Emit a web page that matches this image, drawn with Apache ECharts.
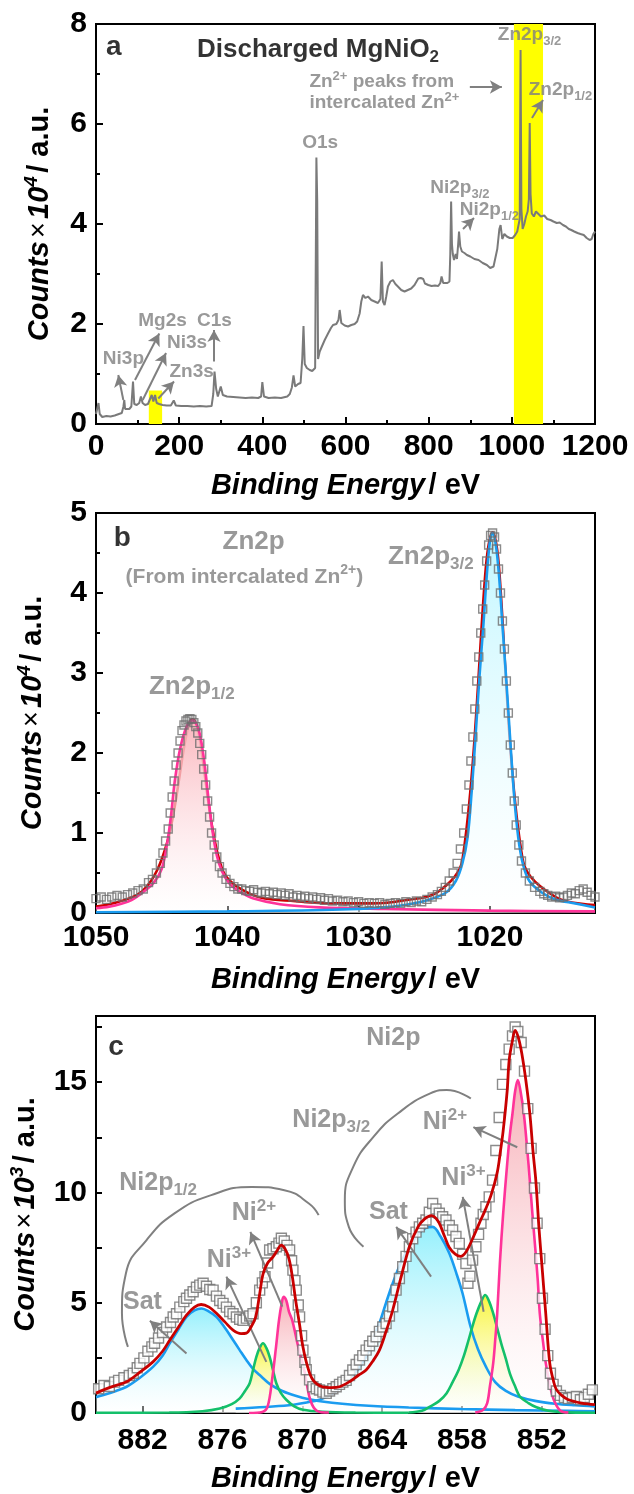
<!DOCTYPE html>
<html>
<head>
<meta charset="utf-8">
<script src="https://cdn.jsdelivr.net/npm/echarts@6/dist/echarts.min.js"></script>
<style>
html, body { margin: 0; padding: 0; background: #fff; }
#chart { width: 634px; height: 1494px; }
</style>
</head>
<body>
<div id="chart"></div>
<script>
// ---- values ----
// (a) survey spectrum, [binding energy eV, counts x1e4]
var survey = [
  [0,0.2],[3,0.24],[6,0.42],[9,0.2],[15,0.14],[25,0.16],[35,0.15],[45,0.17],[55,0.2],[62,0.22],[66,0.35],[68,0.48],[70,0.3],[74,0.28],
  [80,0.3],[85,0.35],[89,0.85],[92,0.4],[98,0.38],[104,0.42],[108,0.55],[112,0.42],[118,0.38],[125,0.4],[130,0.5],[134,0.58],[138,0.45],
  [142,0.58],[146,0.42],[152,0.4],[160,0.38],[170,0.37],[180,0.37],[187,0.47],[192,0.37],[205,0.36],[220,0.36],[235,0.35],[250,0.36],
  [265,0.35],[278,0.36],[282,0.6],[285,1.05],[289,0.7],[293,0.55],[300,0.75],[305,0.58],[315,0.55],[330,0.54],[345,0.53],[360,0.52],
  [375,0.53],[390,0.52],[397,0.55],[400,0.84],[404,0.55],[415,0.52],[430,0.53],[445,0.52],[460,0.55],[466,0.6],[471,0.73],[475,0.97],
  [479,0.75],[486,0.8],[492,0.82],[496,1.3],[499,1.96],[502,1.2],[507,1.12],[514,1.08],[520,1.06],[527,1.12],[530,5.33],[532,4.45],
  [534,1.3],[538,1.45],[542,1.48],[550,1.68],[558,1.81],[565,1.92],[570,1.98],[578,2.0],[583,2.08],[586,2.28],[590,2.02],[598,1.97],
  [606,1.95],[614,1.98],[622,2.0],[628,2.05],[634,2.21],[638,2.45],[642,2.58],[648,2.52],[654,2.55],[662,2.48],[670,2.45],[678,2.42],
  [684,2.5],[687,3.25],[690,2.45],[694,2.38],[698,2.55],[702,2.75],[708,2.85],[714,2.88],[720,2.8],[726,2.75],[734,2.68],[742,2.65],
  [750,2.68],[758,2.71],[766,2.78],[775,2.91],[781,2.92],[787,2.9],[791,2.81],[799,2.78],[807,2.76],[815,2.77],[823,2.76],[828,2.82],
  [831,2.95],[835,2.82],[839,2.78],[845,2.82],[850,2.85],[852,3.4],[854,4.45],[856,3.6],[858,3.4],[861,3.28],[865,3.4],[868,3.3],
  [871,3.6],[873,3.85],[876,3.55],[880,3.45],[886,3.42],[892,3.38],[900,3.35],[910,3.3],[920,3.28],[930,3.22],[940,3.18],[948,3.12],
  [952,3.08],[956,3.15],[960,3.18],[965,3.5],[970,3.9],[973,3.98],[977,3.7],[982,3.8],[988,3.75],[995,3.72],[1002,3.72],[1008,3.78],
  [1013,3.85],[1017,3.88],[1019,4.1],[1021,7.48],[1023,4.3],[1026,3.9],[1030,4.0],[1034,4.15],[1038,4.25],[1041,4.5],[1043,6.02],
  [1045,4.6],[1048,4.21],[1053,4.15],[1058,4.25],[1064,4.2],[1070,4.15],[1078,4.17],[1085,4.1],[1093,4.08],[1100,4.05],[1108,4.02],
  [1115,4.03],[1123,3.98],[1130,3.95],[1137,3.9],[1143,3.88],[1150,3.85],[1158,3.82],[1165,3.8],[1173,3.78],[1180,3.72],[1187,3.68],
  [1192,3.7],[1196,3.8],[1200,3.85]
];
var highlightBands = [[1005, 1075], [127, 159, 0.67]];

// (b) Zn2p, counts x1e4
var znRaw = [
  [1050,0.18],[1049.6,0.2],[1049.2,0.17],[1048.8,0.2],[1048.4,0.22],[1048,0.2],[1047.6,0.23],[1047.2,0.25],[1046.8,0.28],[1046.4,0.3],
  [1046,0.38],[1045.7,0.42],[1045.4,0.5],[1045.1,0.62],[1044.9,0.75],[1044.7,0.9],[1044.5,1.05],[1044.35,1.25],[1044.2,1.45],
  [1044.05,1.65],[1043.9,1.85],[1043.75,2.0],[1043.6,2.15],[1043.45,2.28],[1043.3,2.35],[1043.15,2.4],[1043,2.42],[1042.85,2.43],
  [1042.7,2.42],[1042.55,2.38],[1042.4,2.33],[1042.25,2.25],[1042.1,2.12],[1041.95,1.98],[1041.8,1.8],[1041.65,1.6],[1041.5,1.4],
  [1041.35,1.2],[1041.2,1.0],[1041,0.85],[1040.8,0.7],[1040.6,0.58],[1040.4,0.5],[1040.1,0.42],[1039.8,0.37],[1039.5,0.33],
  [1039.2,0.3],[1038.9,0.3],[1038.6,0.28],[1038.3,0.27],[1038,0.29],[1037.7,0.26],[1037.4,0.25],[1037.1,0.27],[1036.8,0.24],
  [1036.5,0.26],[1036.2,0.23],[1035.9,0.25],[1035.6,0.22],[1035.3,0.24],[1035,0.2],[1034.7,0.22],[1034.4,0.19],[1034.1,0.21],
  [1033.8,0.18],[1033.5,0.2],[1033.2,0.17],[1032.9,0.19],[1032.6,0.16],[1032.3,0.18],[1032,0.15],[1031.6,0.16],[1031.2,0.14],
  [1030.8,0.15],[1030.4,0.13],[1030,0.14],[1029.6,0.12],[1029.2,0.13],[1028.8,0.12],[1028.4,0.13],[1028,0.11],[1027.6,0.12],
  [1027.2,0.13],[1026.8,0.12],[1026.4,0.14],[1026,0.13],[1025.6,0.15],[1025.2,0.14],[1024.8,0.17],[1024.4,0.2],[1024,0.23],
  [1023.7,0.27],[1023.4,0.32],[1023.1,0.4],[1022.8,0.5],[1022.5,0.62],[1022.25,0.8],[1022,1.0],[1021.8,1.3],[1021.6,1.6],
  [1021.45,1.9],[1021.3,2.2],[1021.15,2.55],[1021,2.9],[1020.85,3.2],[1020.7,3.5],[1020.55,3.8],[1020.4,4.1],[1020.25,4.4],
  [1020.1,4.6],[1019.95,4.72],[1019.8,4.75],[1019.65,4.7],[1019.5,4.55],[1019.35,4.3],[1019.2,4.0],[1019.05,3.65],[1018.9,3.3],
  [1018.75,2.9],[1018.6,2.5],[1018.45,2.1],[1018.3,1.75],[1018.15,1.4],[1018,1.1],[1017.8,0.85],[1017.6,0.65],[1017.3,0.5],
  [1017,0.4],[1016.6,0.32],[1016.2,0.27],[1015.9,0.24],[1015.6,0.22],[1015.3,0.2],[1015,0.21],[1014.7,0.19],[1014.4,0.2],
  [1014.1,0.22],[1013.8,0.25],[1013.5,0.24],[1013.2,0.28],[1012.9,0.3],[1012.6,0.26],[1012.3,0.22],[1012,0.2]
];
var zn12Fit = [
  [1050,0.06],[1049,0.08],[1048,0.12],[1047.3,0.16],[1046.5,0.25],[1045.6,0.38],[1045,0.55],[1044.6,0.85],[1044.3,1.2],[1044,1.65],
  [1043.6,2.05],[1043.1,2.33],[1042.65,2.41],[1042.2,2.3],[1041.8,1.95],[1041.45,1.45],[1041.15,1.05],[1040.8,0.72],[1040.4,0.52],
  [1039.8,0.36],[1039,0.26],[1038,0.18],[1036,0.11],[1033,0.07],[1028,0.05],[1020,0.03],[1012,0.02]
];
var zn32Fit = [
  [1050,0.01],[1040,0.02],[1032,0.04],[1028,0.07],[1026.5,0.1],[1025,0.15],[1023.4,0.25],[1022.6,0.4],[1022.1,0.62],[1021.7,0.95],
  [1021.4,1.5],[1021.1,2.2],[1020.8,2.95],[1020.5,3.6],[1020.25,4.2],[1020,4.65],[1019.8,4.75],[1019.55,4.6],[1019.3,4.2],
  [1019.05,3.6],[1018.75,2.9],[1018.45,2.15],[1018.15,1.45],[1017.85,0.95],[1017.5,0.62],[1017,0.4],[1016,0.25],[1015,0.17],
  [1013.5,0.12],[1012,0.07]
];
var znSum = [
  [1050,0.08],[1046.5,0.27],[1044.6,0.87],[1042.65,2.42],[1040.4,0.55],[1038,0.22],[1035,0.15],[1032,0.12],[1029,0.12],
  [1026.5,0.16],[1024,0.26],[1022.1,0.66],[1019.8,4.76],[1017.5,0.66],[1015,0.2],[1012,0.1]
];

// (c) Ni2p, counts x1e3
var niRaw = [
  [885.3,1.1],[884.9,1.25],[884.5,1.2],[884.1,1.4],[883.8,1.48],[883.4,1.6],[883,1.7],[882.7,1.8],[882.4,2.05],[882.2,2.25],[881.9,2.5],
  [881.6,2.8],[881.3,3.0],[881.1,3.16],[880.8,3.4],[880.5,3.65],[880.2,3.9],[879.9,4.1],[879.7,4.35],[879.45,4.5],[879.2,4.8],
  [878.9,5.05],[878.7,5.2],[878.45,5.35],[878.2,5.5],[877.95,5.7],[877.7,5.8],[877.45,5.88],[877.2,5.75],[876.95,5.6],[876.7,5.57],
  [876.45,5.3],[876.2,5.1],[875.95,4.97],[875.7,4.8],[875.45,4.6],[875.2,4.5],[874.95,4.35],[874.7,4.25],[874.45,4.2],[874.2,4.3],
  [873.95,4.4],[873.7,4.5],[873.45,5.0],[873.2,5.57],[873,5.9],[872.8,6.18],[872.6,6.8],[872.45,7.39],[872.2,7.45],[871.95,7.54],
  [871.75,7.7],[871.57,7.92],[871.35,7.8],[871.15,7.6],[870.95,7.39],[870.8,6.9],[870.7,6.48],[870.55,6.0],[870.45,5.57],[870.3,4.9],
  [870.2,4.36],[870.05,3.5],[869.95,2.85],[869.8,2.3],[869.7,1.96],[869.45,1.5],[869.2,1.19],[868.95,1.1],[868.7,1.04],[868.45,0.95],
  [868.2,0.89],[867.95,1.0],[867.7,1.1],[867.45,1.19],[867.2,1.3],[866.95,1.4],[866.7,1.48],[866.45,1.7],[866.2,1.95],[865.95,2.2],
  [865.7,2.4],[865.45,2.6],[865.2,2.85],[864.95,3.05],[864.7,3.25],[864.45,3.46],[864.2,3.7],[863.95,3.9],[863.7,4.06],[863.45,4.4],
  [863.2,4.82],[862.95,5.57],[862.7,6.1],[862.45,6.63],[862.2,7.1],[861.95,7.54],[861.7,7.9],[861.45,8.2],[861.2,8.44],[860.95,8.6],
  [860.7,8.75],[860.45,9.1],[860.2,9.5],[859.95,9.25],[859.7,9.06],[859.45,8.9],[859.2,8.75],[858.95,8.5],[858.7,8.3],[858.45,8.0],
  [858.2,7.69],[857.95,7.2],[857.7,6.78],[857.55,5.88],[857.4,6.2],[857.2,6.93],[856.95,7.54],[856.75,8.1],[856.57,8.6],[856.4,9.0],
  [856.2,9.35],[855.95,9.8],[855.7,10.56],[855.45,11.9],[855.2,13.4],[854.95,14.9],[854.7,15.8],[854.45,16.5],[854.2,17.1],[854,17.5],
  [853.8,17.3],[853.55,16.8],[853.3,15.5],[853.05,13.8],[852.8,12.0],[852.55,10.2],[852.35,8.6],[852.15,7.0],[851.95,5.2],[851.75,3.8],
  [851.55,2.6],[851.35,1.8],[851.15,1.3],[850.9,1.0],[850.6,0.8],[850.3,0.7],[850,0.65],[849.7,0.7],[849.4,0.75],[849.1,0.6],
  [848.8,0.7],[848.5,0.85],[848.2,1.05]
];
var niSatA = [
  [885.5,0.72],[885,0.8],[884,1.0],[883.2,1.19],[882.2,1.6],[881.2,2.1],[880.5,2.6],[879.95,3.17],[879.3,3.8],[878.7,4.36],[878.1,4.65],
  [877.57,4.74],[877,4.6],[876.45,4.36],[875.8,3.85],[875.2,3.31],[874.7,2.85],[874.2,2.4],[873.7,2.0],[873.2,1.72],[872.4,1.3],
  [871.5,1.0],[870.5,0.78],[869.5,0.62],[868.5,0.52],[867,0.42],[865,0.33],[862,0.25],[858,0.18],[854,0.13],[850,0.1],[848,0.08]
];
var niSatB = [
  [875,0.2],[871,0.35],[869.5,0.5],[868.7,0.6],[867.7,0.89],[866.45,1.5],[865.8,2.0],[865.2,2.55],[864.7,3.3],[864.2,4.07],[863.7,5.0],
  [863.2,5.88],[862.6,6.8],[861.95,7.54],[861.3,8.1],[860.7,8.4],[860.2,8.44],[859.6,8.0],[858.95,7.24],[858.4,6.3],[857.95,5.42],
  [857.35,3.91],[856.8,2.9],[856.2,2.1],[855.5,1.4],[854.7,1.0],[853.8,0.75],[852.5,0.55],[851,0.42],[849.5,0.35],[848,0.3]
];
var niIII_12 = [
  [885.5,0.01],[880,0.02],[877.5,0.08],[876.2,0.2],[875.3,0.4],[874.7,0.66],[874.3,1.0],[873.95,1.35],[873.7,1.95],[873.45,2.55],
  [873.2,2.95],[872.95,3.16],[872.7,2.95],[872.45,2.55],[872.2,1.95],[871.95,1.35],[871.6,0.9],[871.2,0.6],[870.6,0.3],[869.95,0.15],
  [868.5,0.06],[866,0.02],[862,0.01]
];
var niII_12 = [
  [874,0.0],[873,0.05],[872.6,0.3],[872.27,1.5],[871.97,3.0],[871.75,4.2],[871.55,4.95],[871.4,5.27],[871.2,5.1],[871,4.6],
  [870.75,4.2],[870.3,3.0],[869.8,1.8],[869.4,0.6],[868.9,0.1],[868,0.02]
];
var niIII_32 = [
  [862,0.02],[861,0.1],[860.4,0.29],[859.7,0.55],[859.15,0.9],[858.7,1.4],[858.25,1.95],[857.85,2.6],[857.5,3.31],[857.2,3.95],
  [856.9,4.52],[856.55,5.05],[856.25,5.35],[855.95,5.05],[855.65,4.52],[855.35,3.85],[855.05,3.16],[854.7,2.45],[854.4,1.8],[854,1.2],
  [853.65,0.75],[853,0.45],[852.4,0.26],[851.5,0.1],[850.5,0.04],[848,0.01]
];
var niII_32 = [
  [857,0.02],[856.4,0.15],[856.1,0.45],[855.9,1.2],[855.65,2.26],[855.5,3.3],[855.35,4.5],[855.15,6.78],[854.9,9.05],[854.6,11.3],
  [854.4,12.6],[854.2,13.58],[854,14.6],[853.8,15.1],[853.6,14.6],[853.35,13.58],[853.1,12.0],[852.9,10.56],[852.7,9.0],[852.5,7.54],
  [852.3,6.0],[852.15,4.52],[851.9,3.2],[851.7,2.26],[851.4,1.3],[851.1,0.6],[850.6,0.1],[850,0.02]
];
var niSum = [
  [885.5,0.9],[884.5,1.15],[883.2,1.42],[882.2,1.85],[881.2,2.33],[880.5,2.8],[879.95,3.31],[879.3,3.9],[878.7,4.44],[878.1,4.8],
  [877.6,4.92],[877,4.8],[876.45,4.52],[875.8,4.12],[875.2,3.76],[874.6,3.6],[874.2,3.62],[873.85,3.9],[873.5,4.36],[873.2,5.4],
  [872.95,6.3],[872.6,6.8],[872.2,7.08],[871.85,7.4],[871.6,7.61],[871.3,7.45],[871,7.0],[870.75,6.2],[870.5,5.12],[870.2,4.0],
  [869.95,3.0],[869.6,2.1],[869.2,1.5],[868.5,1.19],[867.8,1.15],[867.2,1.19],[866.45,1.42],[865.8,1.7],[865.2,1.95],[864.7,2.35],
  [864.2,2.85],[863.7,3.7],[863.2,4.67],[862.6,6.1],[861.95,7.54],[861.3,8.44],[860.8,8.8],[860.3,8.95],[859.8,8.7],[859.3,8.0],
  [858.95,7.5],[858.5,7.2],[858.1,7.1],[857.7,7.3],[857.2,7.9],[856.7,8.6],[856.25,9.2],[855.8,9.9],[855.35,10.9],[855.1,11.9],
  [854.9,12.8],[854.6,14.6],[854.45,16.0],[854.2,16.9],[854,17.35],[853.75,17.0],[853.5,16.3],[853.2,15.1],[852.9,13.6],[852.65,11.8],
  [852.45,10.56],[852.2,8.3],[852,6.78],[851.7,4.5],[851.4,2.26],[851.1,1.4],[850.9,1.06],[850.5,0.8],[850,0.6],[849,0.45],[848,0.38]
];

// tick values
var surveyTicks = [0, 200, 400, 600, 800, 1000, 1200];
var znTicks = [1020, 1030, 1040, 1050];
var niTicks = [852, 858, 864, 870, 876, 882];

// annotation text anchors (data coordinates): [x, y, text]
var surveyNotes = [
  [43, 7.54, '{k|a}'],
  [534, 7.48, '{t|Discharged MgNiO}{ts|2}'],
  [1042.5, 7.78, '{m|Zn2p}{sb|3/2}'],
  [1117, 6.68, '{m|Zn2p}{sb|1/2}'],
  [539, 5.62, '{m|O1s}'],
  [875, 4.72, '{m|Ni2p}{sb|3/2}'],
  [946, 4.28, '{m|Ni2p}{sb|1/2}'],
  [160, 2.06, '{m|Mg2s}'],
  [285, 2.06, '{m|C1s}'],
  [219, 1.62, '{m|Ni3s}'],
  [66, 1.3, '{m|Ni3p}'],
  [230, 1.04, '{m|Zn3s}']
];
var surveyLeftNotes = [
  [512, 6.84, '{m|Zn}{sp|2+}{m| peaks from}'],
  [512, 6.42, '{m|intercalated Zn}{sp|2+}']
];
var surveyArrows = [
  [899, 6.74, 976, 6.74], [1048.5, 6.12, 1075, 6.48], [882.6, 3.9, 909, 4.12],
  [65.7, 0.48, 53.6, 0.98], [93.8, 0.88, 152.2, 1.81], [112.3, 0.48, 168.4, 1.42],
  [149.8, 0.51, 187.6, 0.85], [283.8, 1.25, 283.8, 1.88]
];
var znNotes = [
  [1048, 4.69, '{k|b}'],
  [1038, 4.64, '{m|Zn2p}'],
  [1038.7, 4.2, '{p|(From intercalated Zn}{psp|2+}{p|)}'],
  [1042.7, 2.83, '{m|Zn2p}{sb|1/2}'],
  [1024.5, 4.45, '{m|Zn2p}{sb|3/2}']
];
var niNotes = [
  [884.0, 16.58, '{k|c}'],
  [863.15, 17.0, '{m|Ni2p}'],
  [880.83, 10.42, '{m|Ni2p}{sb|1/2}'],
  [867.82, 13.28, '{m|Ni2p}{sb|3/2}'],
  [859.28, 13.19, '{m|Ni}{sp|2+}'],
  [857.88, 10.65, '{m|Ni}{sp|3+}'],
  [863.52, 9.11, '{m|Sat}'],
  [873.63, 9.06, '{m|Ni}{sp|2+}'],
  [875.51, 6.93, '{m|Ni}{sp|3+}'],
  [882.01, 5.04, '{m|Sat}']
];
var niArrows = [
  [878.7, 2.7, 881.45, 4.18], [872.7, 2.32, 875.7, 6.18], [871.5, 4.82, 873.9, 8.21],
  [860.32, 6.18, 862.94, 8.44], [856.37, 4.59, 857.94, 9.8], [853.84, 12.05, 857.14, 12.96]
];
var niArcLeft = [[883.1,3.0],[883.55,4.52],[883.25,6.34],[881.7,7.84],[879.6,9.05],[876.84,9.88],[873.8,10.25],[871.35,10.1],[869.5,9.5],[868.77,8.97]];
var niArcRight = [[865.4,7.54],[866.5,8.44],[866.8,9.65],[866.17,11.16],[864.65,12.52],[862.82,13.58],[860.38,14.49],[859.15,14.64],[857.33,14.26]];

// ---- chart ----
var FONT = "'Liberation Sans', Arial, sans-serif";
var GRAY = '#808080';
var chart = echarts.init(document.getElementById('chart'), null, { renderer: 'canvas' });

function grad(top, bottom) {
  return new echarts.graphic.LinearGradient(0, 0, 0, 1, [
    { offset: 0, color: top }, { offset: 1, color: bottom || 'rgba(255,255,255,0.4)' }
  ]);
}

function richSet(size, weight, color) {
  var sub = Math.round(size * 0.66);
  return {
    m: { fontFamily: FONT, fontSize: size, fontWeight: weight, color: color, lineHeight: size + 6 },
    sb: { fontFamily: FONT, fontSize: sub, fontWeight: weight, color: color, verticalAlign: 'bottom', lineHeight: sub },
    sp: { fontFamily: FONT, fontSize: sub, fontWeight: weight, color: color, verticalAlign: 'top', lineHeight: sub },
    k: { fontFamily: FONT, fontSize: 28, fontWeight: 'bold', color: '#000', lineHeight: 32 },
    t: { fontFamily: FONT, fontSize: 26, fontWeight: 'bold', color: '#000', lineHeight: 32 },
    ts: { fontFamily: FONT, fontSize: 17, fontWeight: 'bold', color: '#000', verticalAlign: 'bottom', lineHeight: 17 },
    p: { fontFamily: FONT, fontSize: 21, fontWeight: 'bold', color: color, lineHeight: 27 },
    psp: { fontFamily: FONT, fontSize: 14, fontWeight: 'bold', color: color, verticalAlign: 'top', lineHeight: 14 }
  };
}

function noteSeries(idx, notes, rich, arrows, position) {
  return {
    type: 'scatter', xAxisIndex: idx, yAxisIndex: idx, z: 6, silent: true,
    symbolSize: 1, itemStyle: { color: 'rgba(0,0,0,0)' },
    data: notes.map(function (n) {
      return {
        value: [n[0], n[1]],
        label: { show: true, position: position || 'inside', distance: 0, formatter: function () { return n[2]; }, rich: rich }
      };
    }),
    markLine: arrows ? {
      silent: true, animation: false, symbol: ['none', 'arrow'], symbolSize: [10, 12],
      label: { show: false }, lineStyle: { color: GRAY, width: 2, type: 'solid' },
      data: arrows.map(function (a) { return [{ coord: [a[0], a[1]] }, { coord: [a[2], a[3]] }]; })
    } : undefined
  };
}

function fitSeries(idx, data, color, fill, z) {
  return {
    type: 'line', xAxisIndex: idx, yAxisIndex: idx, data: data, smooth: 0.35, symbol: 'none', z: z || 2, silent: true,
    lineStyle: { color: color, width: 2.6 },
    areaStyle: fill ? { color: grad(fill), opacity: 1 } : undefined
  };
}

function rawSeries(idx, data, size, fill) {
  return {
    type: 'scatter', xAxisIndex: idx, yAxisIndex: idx, data: data, symbol: 'rect', symbolSize: size, z: 4, silent: true,
    itemStyle: { color: fill, borderColor: '#6e6e6e', borderWidth: 1.4 }
  };
}

function plain(v) { return String(v); }
var tickLabel = { color: '#000', fontFamily: FONT, fontSize: 30, fontWeight: 'bold' };
var axisLine = { show: true, onZero: false, lineStyle: { color: '#000', width: 2 } };

function xName(gap) {
  return {
    name: '{i|Binding Energy} {n|/ eV}', nameLocation: 'middle', nameGap: gap,
    nameTextStyle: { rich: {
      i: { fontFamily: FONT, fontSize: 29, fontWeight: 'bold', fontStyle: 'italic', color: '#000' },
      n: { fontFamily: FONT, fontSize: 29, fontWeight: 'bold', color: '#000' }
    } }
  };
}
function yName(exp, gap) {
  return {
    name: '{i|Counts} {x|\u00d7} {i|10}{s|' + exp + '} {n|/ a.u.}', nameLocation: 'middle', nameGap: gap, nameRotate: 90,
    nameTextStyle: { rich: {
      i: { fontFamily: FONT, fontSize: 29, fontWeight: 'bold', fontStyle: 'italic', color: '#000', lineHeight: 36 },
      x: { fontFamily: FONT, fontSize: 27, color: '#000', lineHeight: 36 },
      s: { fontFamily: FONT, fontSize: 19, fontWeight: 'bold', fontStyle: 'italic', color: '#000', verticalAlign: 'top', lineHeight: 19 },
      n: { fontFamily: FONT, fontSize: 29, fontWeight: 'bold', color: '#000', lineHeight: 36 }
    } }
  };
}

var grids = [
  { left: 96, top: 24, width: 499, height: 400 },
  { left: 96, top: 513, width: 499, height: 400 },
  { left: 96, top: 1016, width: 499, height: 397 }
].map(function (g) { g.show = true; g.borderColor = '#000'; g.borderWidth = 2; g.backgroundColor = 'transparent'; return g; });

var xAxes = [
  Object.assign({
    type: 'value', gridIndex: 0, min: 0, max: 1200, interval: 200, axisLine: axisLine, splitLine: { show: false },
    axisTick: { inside: true, length: 7, lineStyle: { width: 2, color: '#000' } },
    minorTick: { show: true, splitNumber: 2, length: 4, lineStyle: { width: 2, color: '#000' } },
    axisLabel: Object.assign({ margin: 8, customValues: surveyTicks, formatter: plain }, tickLabel)
  }, xName(47)),
  Object.assign({
    type: 'value', gridIndex: 1, min: 1012, max: 1050, inverse: true, axisLine: axisLine, splitLine: { show: false },
    axisTick: { inside: true, length: 7, customValues: znTicks, lineStyle: { width: 2, color: '#000' } },
    axisLabel: Object.assign({ margin: 10, customValues: znTicks, formatter: plain }, tickLabel)
  }, xName(52)),
  Object.assign({
    type: 'value', gridIndex: 2, min: 848, max: 885.5, inverse: true, axisLine: axisLine, splitLine: { show: false },
    axisTick: { inside: true, length: 7, customValues: niTicks, lineStyle: { width: 2, color: '#000' } },
    axisLabel: Object.assign({ margin: 13, customValues: niTicks, formatter: plain }, tickLabel)
  }, xName(51))
];

var yAxes = [
  Object.assign({
    type: 'value', gridIndex: 0, min: 0, max: 8, interval: 2, axisLine: axisLine, splitLine: { show: false },
    axisTick: { inside: true, length: 7, lineStyle: { width: 2, color: '#000' } },
    minorTick: { show: true, splitNumber: 2, length: 4, lineStyle: { width: 2, color: '#000' } },
    axisLabel: Object.assign({ margin: 9, formatter: plain }, tickLabel)
  }, yName('4', 38)),
  Object.assign({
    type: 'value', gridIndex: 1, min: 0, max: 5, interval: 1, axisLine: axisLine, splitLine: { show: false },
    axisTick: { inside: true, length: 7, lineStyle: { width: 2, color: '#000' } },
    minorTick: { show: true, splitNumber: 2, length: 4, lineStyle: { width: 2, color: '#000' } },
    axisLabel: Object.assign({ margin: 9, formatter: plain }, tickLabel)
  }, yName('4', 45)),
  Object.assign({
    type: 'value', gridIndex: 2, min: 0, max: 18, interval: 2.5, axisLine: axisLine, splitLine: { show: false },
    axisTick: { inside: true, length: 6, lineStyle: { width: 2, color: '#000' } },
    axisLabel: Object.assign({ margin: 9, formatter: function (v) { return v % 5 === 0 ? String(v) : ''; } }, tickLabel)
  }, yName('3', 52))
];

var richA = richSet(19, 'bold', GRAY);
var richB = richSet(26, 'bold', GRAY);
var richC = richSet(25, 'bold', GRAY);

var series = [
  // (a)
  {
    type: 'line', xAxisIndex: 0, yAxisIndex: 0, data: [], z: 1, silent: true,
    markArea: {
      silent: true, itemStyle: { color: '#ffff00', opacity: 1 },
      data: [
        [{ xAxis: highlightBands[0][0] }, { xAxis: highlightBands[0][1] }],
        [{ xAxis: highlightBands[1][0], yAxis: 0 }, { xAxis: highlightBands[1][1], yAxis: highlightBands[1][2] }]
      ]
    }
  },
  { type: 'line', xAxisIndex: 0, yAxisIndex: 0, data: survey, symbol: 'none', z: 3, silent: true, lineStyle: { color: '#7a7a7a', width: 2 } },
  noteSeries(0, surveyNotes, richA, surveyArrows),
  noteSeries(0, surveyLeftNotes, richA, null, 'right'),
  // (b)
  fitSeries(1, znSum, '#cc0000', null, 1),
  fitSeries(1, zn12Fit, '#ff3399', 'rgba(250,178,186,0.95)', 2),
  fitSeries(1, zn32Fit, '#1a9cf0', 'rgba(190,246,255,0.95)', 2),
  rawSeries(1, znRaw, 8, 'rgba(255,255,255,0)'),
  noteSeries(1, znNotes, richB),
  // (c)
  fitSeries(2, niSatA, '#1a9cf0', 'rgba(150,240,252,1)', 2),
  fitSeries(2, niSatB, '#1a9cf0', 'rgba(150,240,252,1)', 2),
  fitSeries(2, niIII_12, '#14c06a', 'rgba(248,245,60,1)', 2),
  fitSeries(2, niIII_32, '#14c06a', 'rgba(248,245,60,1)', 2),
  fitSeries(2, niII_12, '#ff3399', 'rgba(247,175,183,1)', 2),
  fitSeries(2, niII_32, '#ff3399', 'rgba(247,175,183,1)', 2),
  rawSeries(2, niRaw, 10, '#ffffff'),
  Object.assign(fitSeries(2, niSum, '#c80000', null, 5), { lineStyle: { color: '#c80000', width: 2.8 } }),
  { type: 'line', xAxisIndex: 2, yAxisIndex: 2, data: niArcLeft, smooth: 0.5, symbol: 'none', z: 5, silent: true, lineStyle: { color: GRAY, width: 2 } },
  { type: 'line', xAxisIndex: 2, yAxisIndex: 2, data: niArcRight, smooth: 0.5, symbol: 'none', z: 5, silent: true, lineStyle: { color: GRAY, width: 2 } },
  noteSeries(2, niNotes, richC, niArrows)
];

chart.setOption({
  animation: false,
  backgroundColor: '#fff',
  grid: grids,
  xAxis: xAxes,
  yAxis: yAxes,
  series: series
});
</script>
</body>
</html>
